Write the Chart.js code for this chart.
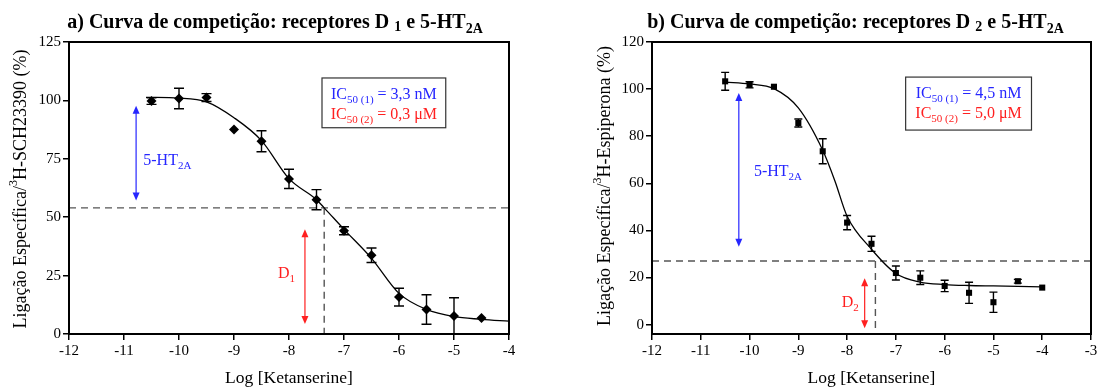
<!DOCTYPE html>
<html>
<head>
<meta charset="utf-8">
<script src="https://cdn.jsdelivr.net/npm/chart.js@4/dist/chart.umd.min.js"></script>
<style>
  html, body { margin: 0; padding: 0; background: #fff; }
  #wrap { position: relative; width: 1101px; height: 387px; }
  .panel { position: absolute; top: 0; height: 387px; }
</style>
</head>
<body>
<div id="wrap">
  <div class="panel" style="left:0;width:550px"><canvas id="chartA"></canvas></div>
  <div class="panel" style="left:550px;width:551px"><canvas id="chartB"></canvas></div>
</div>
<script>
// panel a) D1 / 5-HT2A, 3H-SCH23390
const logDoseA = [-10.5, -10, -9.5, -9, -8.5, -8, -7.5, -7, -6.5, -6, -5.5, -5, -4.5];
const bindingA = [99.7, 100.8, 101.2, 87.5, 82.5, 66.4, 57.5, 44.2, 33.7, 15.8, 10.5, 7.7, 6.8];
const semA = [1.4, 4.4, 1.7, 0, 4.5, 4.1, 4.3, 1.7, 3.1, 3.8, 6.3, 7.8, 0];
const fitXA = [-10.6, -10, -9.5, -9, -8.5, -8, -7.5, -7.36, -7, -6.5, -6, -5.5, -5, -4.5, -4];
const fitYA = [101.3, 101, 99.4, 92.6, 82.8, 66.5, 57.5, 54, 44.8, 32.4, 17.4, 10.5, 7.4, 6.3, 5.5];
const xTicksA = [-12, -11, -10, -9, -8, -7, -6, -5, -4];
const yTicksA = [0, 25, 50, 75, 100, 125];
const plateauA = 54;
const cutXA = -7.36;

// panel b) D2 / 5-HT2A, 3H-Espiperona
const logDoseB = [-10.5, -10, -9.5, -9, -8.5, -8, -7.5, -7, -6.5, -6, -5.5, -5, -4.5, -4];
const bindingB = [103.3, 101.8, 101, 85.6, 73.6, 43.3, 34.3, 21.9, 19.9, 16.4, 13.5, 9.5, 18.4, 15.7];
const semB = [3.8, 1.3, 0, 1.7, 5.3, 3, 3.2, 3, 2.9, 2.4, 4.5, 4.3, 0.8, 0];
const fitXB = [-10.5, -10, -9.5, -9, -8.5, -8.25, -8, -7.5, -7, -6.5, -6, -5.5, -5, -4.5, -4];
const fitYB = [103, 102.2, 100.2, 92, 74, 61, 46, 32, 21.7, 18, 17, 16.6, 16.4, 16.2, 16];
const xTicksB = [-12, -11, -10, -9, -8, -7, -6, -5, -4, -3];
const yTicksB = [0, 20, 40, 60, 80, 100, 120];
const plateauB = 27;
const cutXB = -7.42;

const SERIF = "'Liberation Serif', 'Times New Roman', serif";
const BLUE = "#2626ff";
const RED = "#ff2020";
const f = (size, bold) => (bold ? "bold " : "") + size + "px " + SERIF;

const drawRuns = (ctx, x, y, runs, align) => {
  let total = 0;
  runs.forEach((r) => { ctx.font = r.f; total += ctx.measureText(r.t).width; });
  let cx = align === "center" ? x - total / 2 : x;
  runs.forEach((r) => {
    ctx.font = r.f;
    ctx.fillText(r.t, cx, y + (r.dy || 0));
    cx += ctx.measureText(r.t).width;
  });
};

const arrowHead = (ctx, x, y, dir) => {
  ctx.beginPath();
  ctx.moveTo(x, y);
  ctx.lineTo(x - 3.5, y + dir * 8);
  ctx.lineTo(x + 3.5, y + dir * 8);
  ctx.closePath();
  ctx.fill();
};

const vArrow = (ctx, x, yTop, yBot, color) => {
  ctx.strokeStyle = color;
  ctx.fillStyle = color;
  ctx.lineWidth = 1.2;
  ctx.beginPath();
  ctx.moveTo(x, yTop + 6);
  ctx.lineTo(x, yBot - 6);
  ctx.stroke();
  arrowHead(ctx, x, yTop, 1);
  arrowHead(ctx, x, yBot, -1);
};

const panelPlugin = {
  id: "panel",
  afterDatasetsDraw(chart) {
    const ctx = chart.ctx;
    const xs = chart.scales.x, ys = chart.scales.y;
    const ds = chart.data.datasets[0];
    const cap = chart.options.plugins.panel.cap;
    ctx.save();
    ctx.strokeStyle = "#000";
    ctx.lineWidth = 1.4;
    ds.data.forEach((p, i) => {
      const e = ds.errors[i];
      if (!e) return;
      const x = xs.getPixelForValue(p.x);
      const y0 = ys.getPixelForValue(p.y + e);
      const y1 = ys.getPixelForValue(p.y - e);
      ctx.beginPath();
      ctx.moveTo(x, y0); ctx.lineTo(x, y1);
      ctx.moveTo(x - cap, y0); ctx.lineTo(x + cap, y0);
      ctx.moveTo(x - cap, y1); ctx.lineTo(x + cap, y1);
      ctx.stroke();
    });
    ctx.restore();
  },
  afterDraw(chart) {
    const o = chart.options.plugins.panel;
    const ctx = chart.ctx;
    const xs = chart.scales.x, ys = chart.scales.y;
    const a = chart.chartArea;
    ctx.save();
    // frame
    ctx.strokeStyle = "#000";
    ctx.lineWidth = 2;
    ctx.strokeRect(a.left, a.top, a.right - a.left, a.bottom - a.top);

    ctx.fillStyle = "#000";
    ctx.textBaseline = "alphabetic";
    drawRuns(ctx, o.titleX, 28, o.title, "center");

    // axis titles
    drawRuns(ctx, (a.left + a.right) / 2, 383, [{ t: "Log [Ketanserine]", f: f(17.5) }], "center");
    ctx.save();
    ctx.translate(o.yTitleX, o.yTitleY);
    ctx.rotate(-Math.PI / 2);
    ctx.textBaseline = "middle";
    drawRuns(ctx, 0, 0, o.yTitle, "center");
    ctx.restore();

    // IC50 box
    const bx0 = xs.getPixelForValue(o.box.x0), bx1 = xs.getPixelForValue(o.box.x1);
    const by0 = ys.getPixelForValue(o.box.y0), by1 = ys.getPixelForValue(o.box.y1);
    ctx.fillStyle = "#fff";
    ctx.fillRect(bx0, by0, bx1 - bx0, by1 - by0);
    ctx.strokeStyle = "#333";
    ctx.lineWidth = 1.2;
    ctx.strokeRect(bx0, by0, bx1 - bx0, by1 - by0);
    const bcx = (bx0 + bx1) / 2;
    ctx.fillStyle = BLUE;
    drawRuns(ctx, bcx, by0 + 21, [
      { t: "IC", f: f(16) }, { t: "50 (1)", f: f(11), dy: 4 }, { t: " = " + o.ic1, f: f(16) }
    ], "center");
    ctx.fillStyle = RED;
    drawRuns(ctx, bcx, by0 + 41, [
      { t: "IC", f: f(16) }, { t: "50 (2)", f: f(11), dy: 4 }, { t: " = " + o.ic2, f: f(16) }
    ], "center");

    // arrows + labels
    const h = o.arrowHT, d = o.arrowD;
    vArrow(ctx, xs.getPixelForValue(h.x), ys.getPixelForValue(h.top), ys.getPixelForValue(h.bot), BLUE);
    vArrow(ctx, xs.getPixelForValue(d.x), ys.getPixelForValue(d.top), ys.getPixelForValue(d.bot), RED);
    ctx.fillStyle = BLUE;
    drawRuns(ctx, xs.getPixelForValue(h.lx), ys.getPixelForValue(h.ly), [
      { t: "5-HT", f: f(16) }, { t: "2A", f: f(11), dy: 4 }
    ], "left");
    ctx.fillStyle = RED;
    drawRuns(ctx, xs.getPixelForValue(d.lx), ys.getPixelForValue(d.ly), [
      { t: "D", f: f(16) }, { t: d.sub, f: f(11), dy: 4 }
    ], "left");
    ctx.restore();
  }
};

const makeChart = (id, o) => {
  const tickFont = { family: SERIF, size: 15 };
  return new Chart(document.getElementById(id), {
    type: "scatter",
    data: {
      datasets: [
        {
          data: o.dose.map((x, i) => ({ x, y: o.binding[i] })),
          errors: o.sem,
          pointStyle: o.pointStyle,
          pointRadius: o.pointRadius,
          backgroundColor: "#000",
          borderColor: "#000",
          borderWidth: 0,
          order: 0,
        },
        {
          type: "line",
          data: o.fitX.map((x, i) => ({ x, y: o.fitY[i] })),
          borderColor: "#000",
          borderWidth: 1.3,
          pointRadius: 0,
          cubicInterpolationMode: "monotone",
          fill: false,
          order: 1,
        },
        {
          type: "line",
          data: [{ x: o.xMin, y: o.plateau }, { x: o.xMax, y: o.plateau }],
          borderColor: "#555",
          borderWidth: 1.4,
          borderDash: [7, 5],
          pointRadius: 0,
          order: 2,
        },
        {
          type: "line",
          data: [{ x: o.cutX, y: o.plateau }, { x: o.cutX, y: o.yMin }],
          borderColor: "#555",
          borderWidth: 1.4,
          borderDash: [7, 5],
          pointRadius: 0,
          order: 2,
        },
      ],
    },
    options: {
      responsive: true,
      maintainAspectRatio: false,
      animation: false,
      events: [],
      layout: { padding: { left: 0, top: 42, right: o.padRight, bottom: 0 } },
      plugins: {
        legend: { display: false },
        tooltip: { enabled: false },
        panel: o.panel,
      },
      scales: {
        x: {
          type: "linear",
          min: o.xMin,
          max: o.xMax,
          afterBuildTicks: (s) => { s.ticks = o.xTicks.map((v) => ({ value: v })); },
          afterFit: (s) => { s.height = 53; s.paddingLeft = 0; s.paddingRight = 0; },
          ticks: { autoSkip: false, font: tickFont, color: "#000", padding: 2, maxRotation: 0 },
          grid: { drawOnChartArea: false, tickLength: 6, color: "#000", lineWidth: 1.5 },
          border: { color: "#000", width: 2 },
        },
        y: {
          type: "linear",
          min: o.yMin,
          max: o.yMax,
          afterBuildTicks: (s) => { s.ticks = o.yTicks.map((v) => ({ value: v })); },
          afterFit: (s) => { s.width = o.yWidth; s.paddingTop = 0; s.paddingBottom = 0; },
          ticks: { autoSkip: false, font: tickFont, color: "#000", padding: 2 },
          grid: { drawOnChartArea: false, tickLength: 6, color: "#000", lineWidth: 1.5 },
          border: { color: "#000", width: 2 },
        },
      },
    },
    plugins: [panelPlugin],
  });
};

makeChart("chartA", {
  dose: logDoseA, binding: bindingA, sem: semA, fitX: fitXA, fitY: fitYA,
  xTicks: xTicksA, yTicks: yTicksA, xMin: -12, xMax: -4, yMin: 0, yMax: 125,
  plateau: plateauA, cutX: cutXA, pointStyle: "rectRot", pointRadius: 5,
  yWidth: 69, padRight: 41,
  panel: {
    cap: 5,
    titleX: 275,
    title: [
      { t: "a) Curva de competição: receptores D ", f: f(20, true) },
      { t: "1", f: f(14, true), dy: 3 },
      { t: " e 5-HT", f: f(20, true) },
      { t: "2A", f: f(14, true), dy: 5 },
    ],
    yTitleX: 21, yTitleY: 189,
    yTitle: [
      { t: "Ligação Específica/", f: f(18) },
      { t: "3", f: f(12), dy: -7 },
      { t: "H-SCH23390 (%)", f: f(18) },
    ],
    box: { x0: -7.4, x1: -5.15, y0: 109.6, y1: 88.3 },
    ic1: "3,3 nM", ic2: "0,3 μM",
    arrowHT: { x: -10.78, top: 97.7, bot: 57.2, lx: -10.65, ly: 72.3 },
    arrowD: { x: -7.71, top: 44.8, bot: 4.3, lx: -8.2, ly: 23.8, sub: "1" },
  },
});

makeChart("chartB", {
  dose: logDoseB, binding: bindingB, sem: semB, fitX: fitXB, fitY: fitYB,
  xTicks: xTicksB, yTicks: yTicksB, xMin: -12, xMax: -3, yMin: -4, yMax: 120,
  plateau: plateauB, cutX: cutXB, pointStyle: "rect", pointRadius: 4.3,
  yWidth: 102, padRight: 10,
  panel: {
    cap: 4,
    titleX: 305.5,
    title: [
      { t: "b) Curva de competição: receptores D ", f: f(20, true) },
      { t: "2", f: f(14, true), dy: 3 },
      { t: " e 5-HT", f: f(20, true) },
      { t: "2A", f: f(14, true), dy: 5 },
    ],
    yTitleX: 55, yTitleY: 186,
    yTitle: [
      { t: "Ligação Específica/", f: f(18) },
      { t: "3", f: f(12), dy: -7 },
      { t: "H-Espiperona (%)", f: f(18) },
    ],
    box: { x0: -6.8, x1: -4.22, y0: 105.1, y1: 82.6 },
    ic1: "4,5 nM", ic2: "5,0 μM",
    arrowHT: { x: -10.22, top: 98.3, bot: 33, lx: -9.91, ly: 63 },
    arrowD: { x: -7.64, top: 19.7, bot: -1.6, lx: -8.11, ly: 7.4, sub: "2" },
  },
});
</script>
</body>
</html>
